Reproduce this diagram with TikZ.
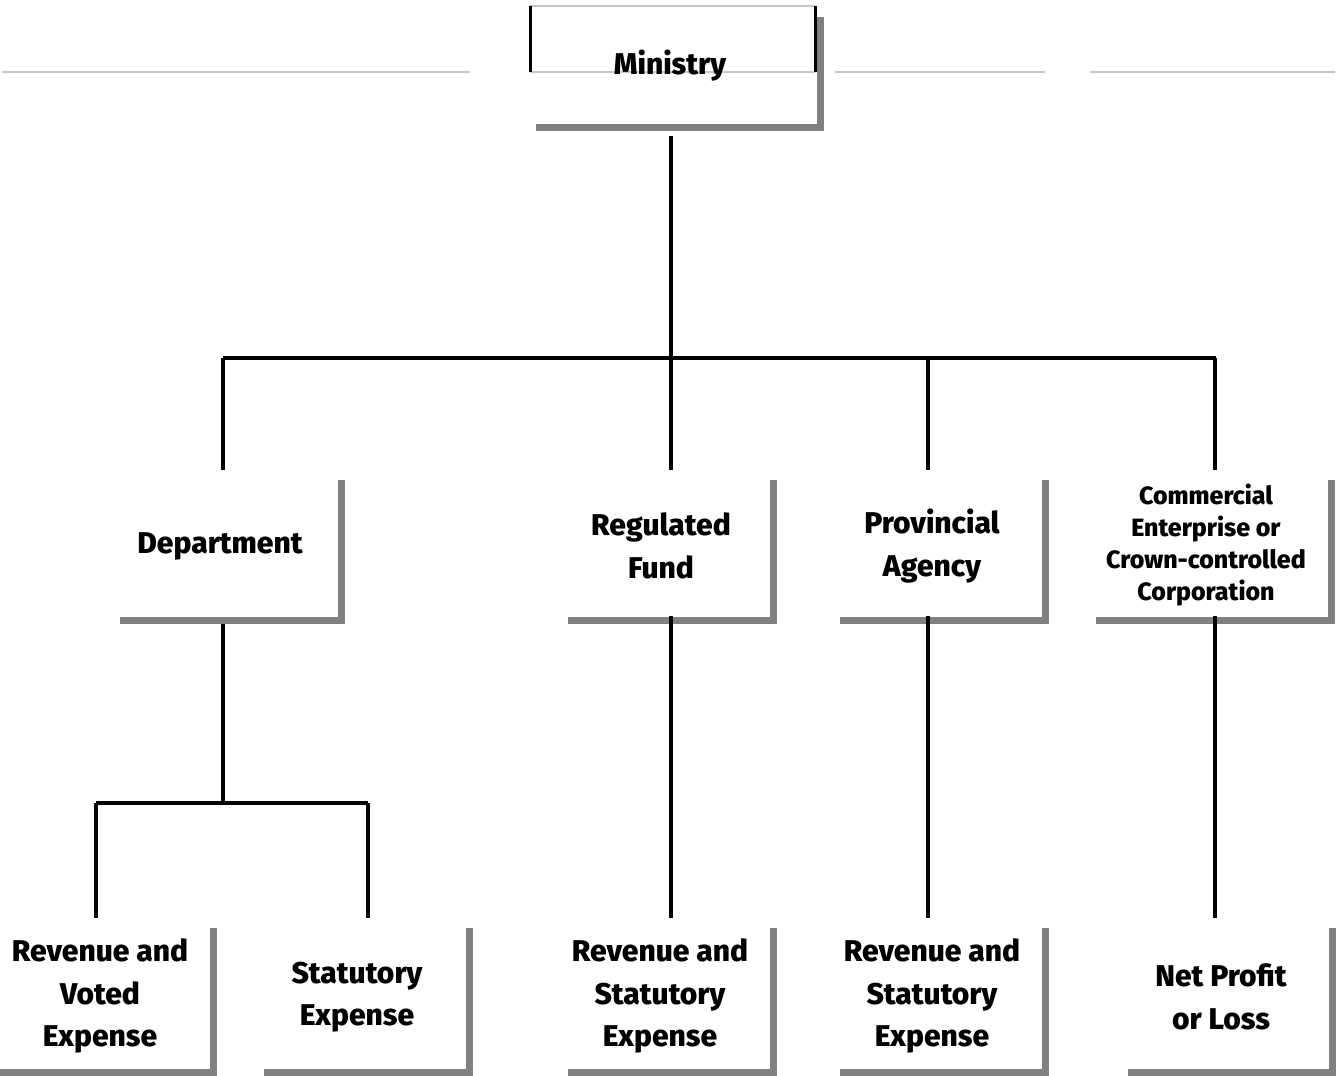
\documentclass[tikz,border=0pt]{standalone}
\usepackage{fontspec}
\IfFontExistsTF{Fira Sans Heavy}{\setmainfont{Fira Sans Heavy}}{%
  \IfFontExistsTF{Fira Sans ExtraBold}{\setmainfont{Fira Sans ExtraBold}}{\setmainfont{Fira Sans}[UprightFont=* Bold]}}
\begin{document}
\begin{tikzpicture}[x=1pt,y=-1pt,
  frame/.style={draw=none,inner sep=0pt,anchor=north west},
  shadowline/.style={draw=black!50,line width=7.5pt,line join=miter},
  conn/.style={draw=black,line width=3.5pt},
  faint/.style={draw=black!22,line width=1.2pt},
  lbl/.style={align=center,font=\fontsize{30}{42.5}\selectfont},
  lblsmall/.style={align=center,font=\fontsize{25}{32}\selectfont}]
\useasboundingbox (0,0) rectangle (1339,1076);
% faint guide lines at top
\draw[faint] (2,72) -- (470,72);
\draw[faint] (530,72) -- (815,72);
\draw[faint] (530,6) -- (815,6);
\draw[faint] (835,72) -- (1045,72);
\draw[faint] (1090,72) -- (1335,72);
% boxes
\newcommand{\mkbox}[5]{%
  \node[frame,minimum width=#4-#2,minimum height=#5-#3] (#1) at (#2,#3) {};
  \draw[shadowline] (#1.north east) -- (#1.south east) -- (#1.south west);}
\mkbox{min}{536}{17}{820}{127}
\mkbox{dep}{120}{480}{341}{620}
\mkbox{reg}{568}{480}{773}{620}
\mkbox{pro}{840}{480}{1045}{620}
\mkbox{com}{1096}{480}{1331}{620}
\mkbox{rve}{0}{928}{213}{1072}
\mkbox{se}{264}{928}{469}{1072}
\mkbox{rse}{568}{928}{773}{1072}
\mkbox{rsp}{840}{928}{1045}{1072}
\mkbox{npl}{1128}{928}{1332}{1072}
% black side marks of Ministry
\coordinate (mtl) at (530,6); \coordinate (mbl) at (530,72);
\coordinate (mtr) at (815,6); \coordinate (mbr) at (815,72);
\draw[conn,line width=3pt] (mtl) -- (mbl);
\draw[conn,line width=3pt] (mtr) -- (mbr);
% labels
\node[lbl] (tmin) at (670,66) {Ministry};
\node[lbl] (tdep) at (220,546) {Department};
\node[lbl] (treg) at (661,546) {Regulated\\Fund};
\node[lbl] (tpro) at (932,546) {Provincial\\Agency};
\node[lblsmall] (tcom) at (1206,545) {Commercial\\Enterprise or\\Crown-controlled\\Corporation};
\node[lbl] (trve) at (100,996) {Revenue and\\Voted\\Expense};
\node[lbl] (tse) at (357,997) {Statutory\\Expense};
\node[lbl] (trse) at (660,996) {Revenue and\\Statutory\\Expense};
\node[lbl] (trsp) at (932,996) {Revenue and\\Statutory\\Expense};
\node[lbl] (tnpl) at (1221,997) {Net Profit\\or Loss};
% connector coordinates
\coordinate (mdown) at (671,136);
\coordinate (j0) at (671,358);
\coordinate (jl) at (223,358);
\coordinate (jr) at (1216,358);
\coordinate (jp) at (928,358);
\coordinate (dtop) at (223,470);
\coordinate (rtop) at (671,470);
\coordinate (ptop) at (928,470);
\coordinate (ctop) at (1215,470);
\coordinate (dbot) at (223,624);
\coordinate (dj) at (223,803);
\coordinate (djl) at (96,803);
\coordinate (djr) at (368,803);
\coordinate (rvetop) at (96,918);
\coordinate (setop) at (368,918);
\coordinate (rbot) at (671,616);
\coordinate (rsetop) at (671,918);
\coordinate (pbot) at (928,616);
\coordinate (rsptop) at (928,918);
\coordinate (cbot) at (1215,616);
\coordinate (npltop) at (1215,918);
\draw[conn] (mdown) -- (j0);
\draw[conn] (jl) -- (jr);
\draw[conn] (jl) -- (dtop);
\draw[conn] (j0) -- (rtop);
\draw[conn] (jp) -- (ptop);
\draw[conn] (ctop) -- (ctop |- jr);
\draw[conn] (dbot) -- (dj);
\draw[conn] (djl) -- (djr);
\draw[conn] (djl) -- (rvetop);
\draw[conn] (djr) -- (setop);
\draw[conn] (rbot) -- (rsetop);
\draw[conn] (pbot) -- (rsptop);
\draw[conn] (cbot) -- (npltop);
\end{tikzpicture}
\end{document}
